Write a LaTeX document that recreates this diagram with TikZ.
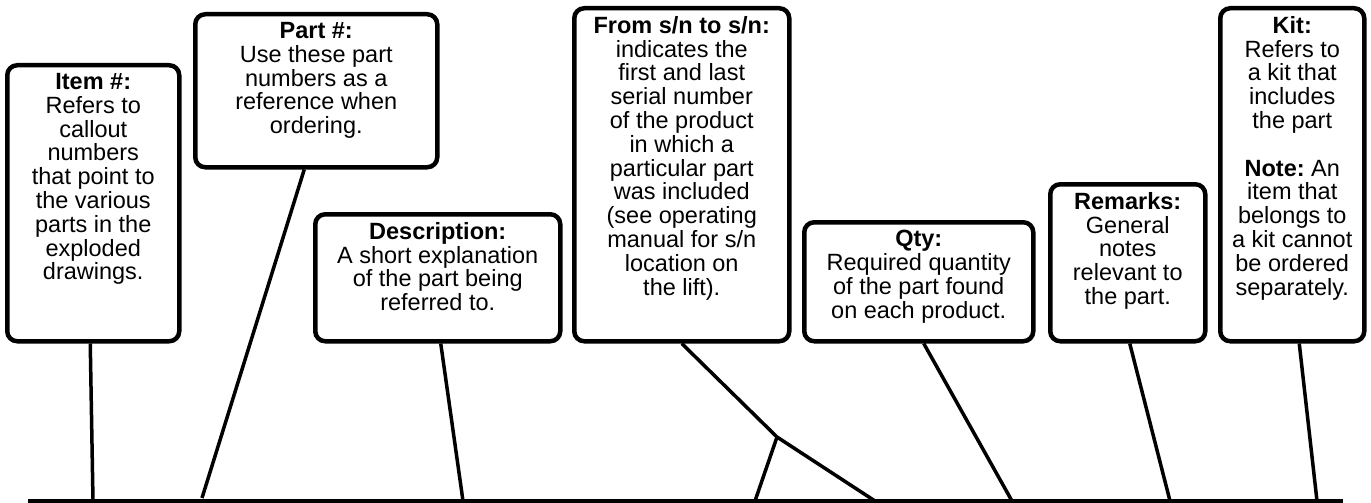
\documentclass[tikz,border=0pt]{standalone}
\usepackage{fontspec}
\setmainfont{Liberation Sans}
\usetikzlibrary{positioning}
\newcommand{\notetext}[3]{\parbox[c][#2][t]{#1}{\centering\frenchspacing\vspace*{8pt}#3}}

\begin{document}
\begin{tikzpicture}[x=1pt, y=-1pt,
    notebox/.style={draw, line width=4.5pt, rounded corners=10pt, anchor=north west, inner sep=0pt,
        font=\fontsize{23.5}{23.8}\selectfont},
    leader/.style={line width=3.5pt}]
    \useasboundingbox (0,0) rectangle (1371,503);

    \node [notebox] (item) at (5,63) {\notetext{172pt}{276pt}{\textbf{Item \#:}\\Refers to\\callout\\numbers\\that point to\\the various\\parts in the\\exploded\\drawings.}};
    \node [notebox] (part) at (193,12) {\notetext{242pt}{153pt}{\textbf{Part \#:}\\Use these part\\numbers as a\\reference when\\ordering.}};
    \node [notebox] (descr) at (313,212) {\notetext{245pt}{127pt}{\textbf{Description:}\\A short explanation\\of the part being\\referred to.}};
    \node [notebox] (serial) at (572,6) {\notetext{215pt}{333pt}{\textbf{From s/n to s/n:}\\indicates the\\first and last\\serial number\\of the product\\in which a\\particular part\\was included\\(see operating\\manual for s/n\\location on\\the lift).}};
    \node [notebox] (qty) at (802,220) {\notetext{229pt}{119pt}{\textbf{Qty:}\\Required quantity\\of the part found\\on each product.}};
    \node [notebox] (remarks) at (1048,182) {\notetext{155pt}{157pt}{\textbf{Remarks:}\\General\\notes\\relevant to\\the part.}};
    \node [notebox] (kit) at (1218,6) {\notetext{144pt}{333pt}{\textbf{Kit:}\\Refers to\\a kit that\\includes\\the part\\[\baselineskip]\textbf{Note:} An\\item that\\belongs to\\a kit cannot\\be ordered\\separately.}};

    % base line and feet
    \coordinate (lineL) at (28,501);
    \coordinate (lineR) at (1343,501);
    \coordinate (itemfoot) at (93,501);
    \coordinate (partfoot) at (202,498);
    \coordinate (descrfoot) at (463,501);
    \coordinate (fork) at (777,437);
    \coordinate (serialfoot) at (875,501);
    \coordinate (forkfoot) at (755,501);
    \coordinate (qtyfoot) at (1012,501);
    \coordinate (remarksfoot) at (1170,501);
    \coordinate (kitfoot) at (1317,501);

    \draw[leader] (lineL) -- (lineR);
    \draw[leader] ([xshift=-3pt]item.south) -- (itemfoot);
    \draw[leader] ([xshift=-12pt]part.south) -- (partfoot);
    \draw[leader] ([xshift=3pt]descr.south) -- (descrfoot);
    \draw[leader] (serial.south) -- (fork) -- (serialfoot);
    \draw[leader] (fork) -- (forkfoot);
    \draw[leader] ([xshift=5pt]qty.south) -- (qtyfoot);
    \draw[leader] ([xshift=2pt]remarks.south) -- (remarksfoot);
    \draw[leader] ([xshift=7pt]kit.south) -- (kitfoot);
\end{tikzpicture}
\end{document}
